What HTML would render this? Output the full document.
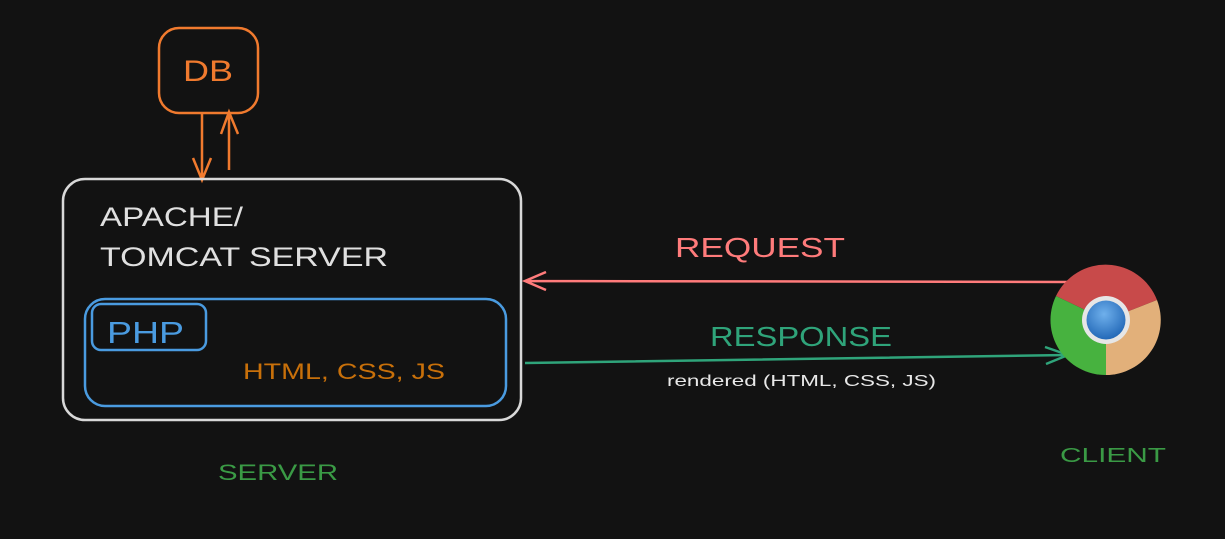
<!DOCTYPE html>
<html><head><meta charset="utf-8"><style>
html,body{margin:0;padding:0;background:#121212;}
svg{display:block}
text{font-family:"Liberation Sans",sans-serif;}
</style></head><body>
<svg width="1225" height="539" viewBox="0 0 1225 539" xmlns="http://www.w3.org/2000/svg">
<rect width="1225" height="539" fill="#121212"/>
<defs>
<radialGradient id="bl" cx="45%" cy="35%" r="70%"><stop offset="0" stop-color="#6fb0ec"/><stop offset="1" stop-color="#1e64b4"/></radialGradient>
</defs>
<!-- DB -->
<rect x="159" y="28" width="99" height="85" rx="20" fill="none" stroke="#f07a2e" stroke-width="2.5"/>
<text x="183" y="81" fill="#f07a2e" font-size="30" textLength="50" lengthAdjust="spacingAndGlyphs">DB</text>
<g stroke="#f07a2e" stroke-width="2.5" fill="none">
<path d="M202 114 L202 180 M193 158 L202 180 L211 158"/>
<path d="M229 170 L229 112 M221 134 L229 112 L238 134"/>
</g>
<!-- server box -->
<rect x="63" y="179" width="458" height="241" rx="22" fill="none" stroke="#d8d8d8" stroke-width="2.5"/>
<text x="100" y="226" fill="#e0e0e0" font-size="27" textLength="143" lengthAdjust="spacingAndGlyphs">APACHE/</text>
<text x="100" y="266" fill="#e0e0e0" font-size="27" textLength="288" lengthAdjust="spacingAndGlyphs">TOMCAT SERVER</text>
<rect x="85" y="299" width="421" height="107" rx="20" fill="none" stroke="#4a9be0" stroke-width="2.5"/>
<rect x="92" y="304" width="114" height="46" rx="9" fill="none" stroke="#4a9be0" stroke-width="2.5"/>
<text x="107" y="343" fill="#4a9be0" font-size="31" textLength="77" lengthAdjust="spacingAndGlyphs">PHP</text>
<text x="243" y="379" fill="#c8700a" font-size="22" textLength="202" lengthAdjust="spacingAndGlyphs">HTML, CSS, JS</text>
<text x="218" y="480" fill="#3a9a45" font-size="22" textLength="120" lengthAdjust="spacingAndGlyphs">SERVER</text>
<!-- request -->
<text x="675" y="257" fill="#ff7b7b" font-size="28" textLength="170" lengthAdjust="spacingAndGlyphs">REQUEST</text>
<g stroke="#ff7b7b" stroke-width="2.5" fill="none">
<path d="M1070 282 L525 281 M546 272 L525 281 L546 290"/>
</g>
<!-- response -->
<text x="710" y="346" fill="#2fa47a" font-size="28" textLength="182" lengthAdjust="spacingAndGlyphs">RESPONSE</text>
<g stroke="#2fa47a" stroke-width="2.5" fill="none">
<path d="M525 363 L1068 355 M1045 347 L1068 355 L1046 364"/>
</g>
<text x="667" y="386" fill="#e8e8e8" font-size="16" textLength="269" lengthAdjust="spacingAndGlyphs">rendered (HTML, CSS, JS)</text>
<!-- chrome -->
<g>
<path d="M1106 320 L1056 296 A55 55 0 0 1 1157 300 Z" fill="#c84a4a"/>
<path d="M1106 320 L1157 300 A55 55 0 0 1 1106 375 Z" fill="#e2b07a"/>
<path d="M1106 320 L1106 375 A55 55 0 0 1 1056 296 Z" fill="#47b23f"/>
<circle cx="1106" cy="320" r="24" fill="#e6e6e6"/>
<circle cx="1106" cy="320" r="19.5" fill="url(#bl)"/>
</g>
<text x="1060" y="462" fill="#3a9a45" font-size="20" textLength="106" lengthAdjust="spacingAndGlyphs">CLIENT</text>
</svg>
</body></html>
